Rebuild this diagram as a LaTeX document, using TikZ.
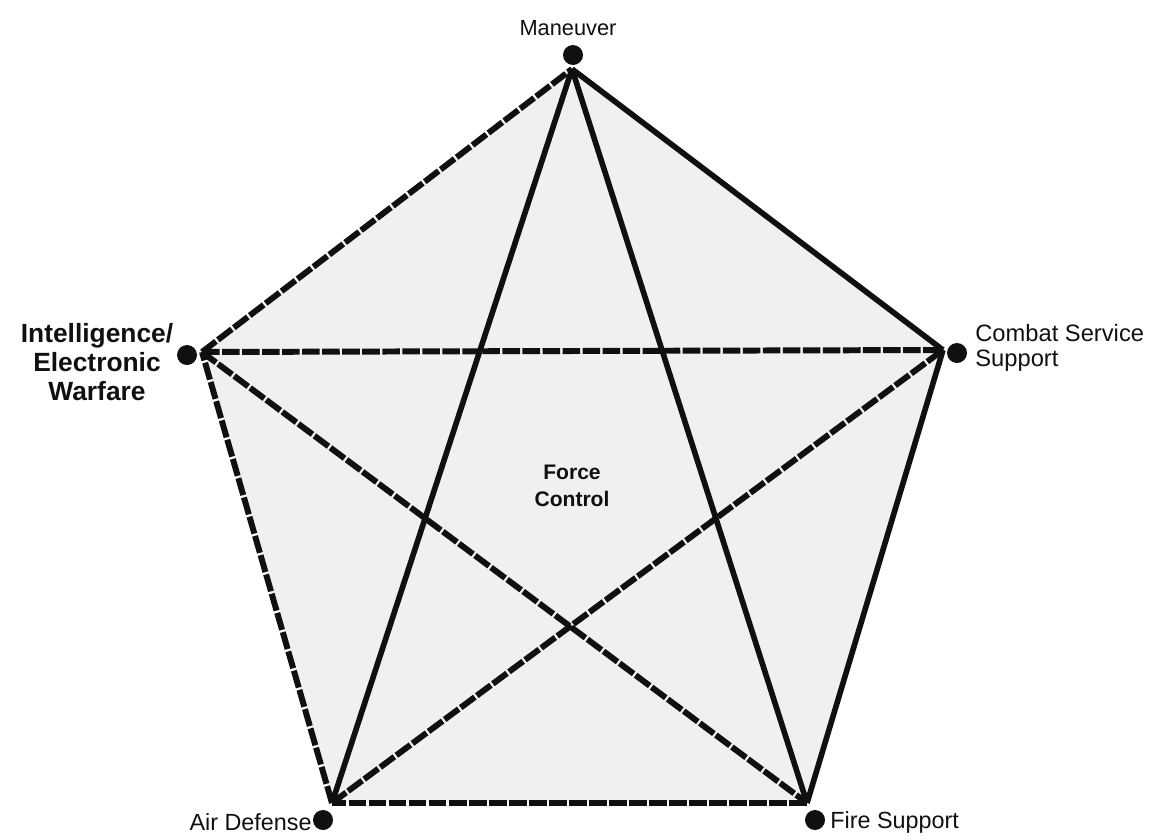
\documentclass[tikz,border=0pt]{standalone}
\usepackage{fontspec}
\setmainfont{Liberation Sans}
\usetikzlibrary{positioning}
\definecolor{fc-line}{HTML}{101010}
\definecolor{fc-fill}{HTML}{F0F0F0}

\begin{document}
\begin{tikzpicture}[x=0.02cm, y=-0.02cm]
    \tikzset{
        vdot/.style={circle, fill=fc-line, inner sep=0pt, minimum size=0.4cm},
        dlink/.style={line width=3.4pt, fc-line, dash pattern=on 10pt off 1.4pt},
        slink/.style={line width=3.2pt, fc-line},
        lbl/.style={fc-line, inner sep=0pt, font=\fontsize{13.3}{15}\selectfont}
    }
    \useasboundingbox (0,0) rectangle (1155,839);
    % corners where the lines meet
    \coordinate (mn) at (572,69);
    \coordinate (css) at (943,350);
    \coordinate (fs) at (807,803);
    \coordinate (ad) at (332,803);
    \coordinate (iew) at (202,352);
    \fill[fc-fill] (mn) -- (css) -- (fs) -- (ad) -- (iew) -- cycle;
    % outline and star
    \foreach \a/\b in {mn/css, css/fs, mn/fs, mn/ad}
        \draw[slink] (\a) -- (\b);
    \foreach \a/\b in {fs/ad, ad/iew, iew/mn, iew/css, iew/fs, ad/css}
        \draw[dlink] (\a) -- (\b);
    % dots
    \node[vdot] (mnpt) at (573,55) {};
    \node[vdot] (csspt) at (957,353) {};
    \node[vdot] (fspt) at (815,820) {};
    \node[vdot] (adpt) at (323,820) {};
    \node[vdot] (iewpt) at (187,355) {};
    % labels
    \node[lbl, font=\fontsize{12.4}{14}\selectfont] (mnlbl) at (568,28) {Maneuver};
    \node[lbl, anchor=west, align=left, font=\fontsize{13.5}{14.2}\selectfont] (csslbl) at (975,348) {Combat Service\\Support};
    \node[lbl, anchor=west] (fslbl) at (830,822) {Fire Support};
    \node[lbl, anchor=east] (adlbl) at (312,822) {Air Defense};
    \node[lbl, align=center, font=\bfseries\fontsize{15}{16.7}\selectfont] (iewlbl) at (97,362) {Intelligence/\\Electronic\\Warfare};
    \node[lbl, align=center, font=\bfseries\fontsize{12}{15}\selectfont] (fclbl) at (572,486) {Force\\Control};
\end{tikzpicture}
\end{document}
